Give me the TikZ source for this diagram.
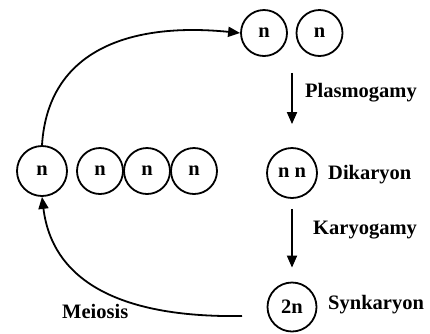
\documentclass[tikz,border=0pt]{standalone}
\usepackage{fontspec}
\setmainfont{Liberation Serif}
\usetikzlibrary{arrows.meta}
\begin{document}
\begin{tikzpicture}[x=1pt,y=-1pt,
  cell/.style={draw,circle,line width=1.8pt,inner sep=0pt,minimum size=46pt,font=\fontsize{20.5}{22}\selectfont\bfseries},
  lbl/.style={anchor=west,inner sep=0pt,font=\fontsize{20.5}{22}\selectfont\bfseries},
  arr/.style={line width=1.8pt,-{Triangle[length=12pt,width=10pt]}}]
\useasboundingbox (0,0) rectangle (430,333);
% gametes
\node[cell] (t1) at (264,33) {n};
\node[cell] (t2) at (319.5,33) {n};
% dikaryon and synkaryon
\node[cell,minimum size=50pt] (dik) at (292,173) {n n};
\node[cell,minimum size=49pt] (syn) at (292,307) {2n};
% haploid products
\node[cell,minimum size=50pt] (h1) at (42,171) {n};
\node[cell] (h2) at (100,171) {n};
\node[cell] (h3) at (147,171) {n};
\node[cell] (h4) at (194,171) {n};
% labels
\node[lbl] (lp) at (305,93) {Plasmogamy};
\node[lbl] (ld) at (328,175) {Dikaryon};
\node[lbl] (lk) at (313,230) {Karyogamy};
\node[lbl] (ls) at (328,305) {Synkaryon};
\node[lbl] (lm) at (62,311) {Meiosis};
% connectors
\draw[arr,shorten <=16pt,shorten >=23pt] (dik.north |- t1.south) -- (dik.north);
\draw[arr,shorten <=10pt,shorten >=14pt] (dik.south) -- (syn.north);
\draw[arr] (h1.north) .. controls (48,50) and (130,22) .. (t1.west);
\coordinate (ms) at (242,316);
\draw[arr] (ms) .. controls (115,318) and (52,278) .. (h1.south);
\end{tikzpicture}
\end{document}
